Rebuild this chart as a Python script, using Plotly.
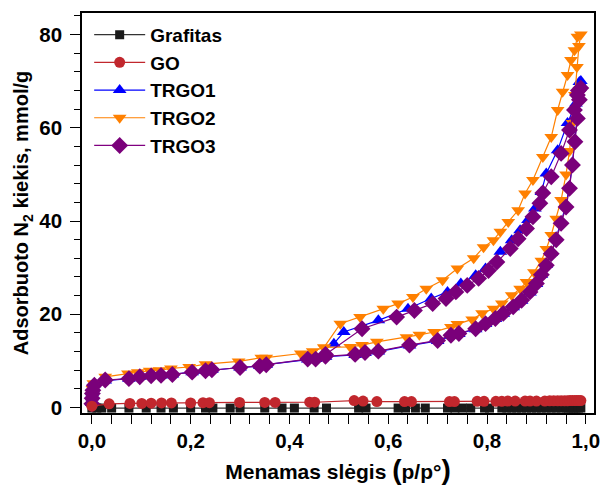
import plotly.graph_objects as go

# ---------------- data ----------------
series_names = ["Grafitas", "GO", "TRGO1", "TRGO2", "TRGO3"]

grafitas_p = [0.0, 0.01, 0.02, 0.04, 0.075, 0.11, 0.14, 0.165, 0.20, 0.23, 0.245, 0.28, 0.30,
              0.35, 0.385, 0.41, 0.45, 0.475, 0.54, 0.555, 0.62, 0.635, 0.655, 0.675, 0.72,
              0.735, 0.75, 0.767, 0.795, 0.805, 0.83, 0.84, 0.85, 0.86, 0.87, 0.88, 0.89,
              0.90, 0.91, 0.92, 0.93, 0.94, 0.95, 0.96, 0.965, 0.97, 0.975, 0.98, 0.985, 0.99]
grafitas_v = [-0.1, -0.1, -0.1, -0.1, -0.1, -0.1, -0.1, -0.1, -0.1, -0.1, -0.1, -0.1, -0.1,
              -0.1, -0.1, -0.1, -0.1, -0.1, -0.1, -0.1, -0.1, -0.1, -0.1, -0.1, -0.1,
              -0.1, -0.1, -0.1, -0.1, -0.1, -0.1, -0.1, -0.1, -0.1, -0.1, -0.1, -0.1,
              -0.1, -0.1, -0.1, -0.1, -0.1, -0.1, -0.1, -0.1, -0.1, -0.1, -0.1, -0.1, -0.1]

go_p = [0.0, 0.035, 0.077, 0.101, 0.12, 0.141, 0.161, 0.2, 0.225, 0.238, 0.299, 0.35, 0.371,
        0.441, 0.451, 0.531, 0.549, 0.577, 0.633, 0.647, 0.724, 0.734, 0.78, 0.794, 0.818,
        0.83, 0.842, 0.857, 0.877, 0.887, 0.90, 0.917, 0.927, 0.935, 0.943, 0.95, 0.957,
        0.963, 0.968, 0.973, 0.978, 0.982, 0.986, 0.99]
go_v = [0.3, 0.8, 0.9, 0.9, 0.95, 1.0, 1.0, 1.0, 1.05, 1.05, 1.1, 1.1, 1.1,
        1.15, 1.15, 1.5, 1.4, 1.3, 1.3, 1.3, 1.3, 1.3, 1.35, 1.35, 1.35,
        1.35, 1.4, 1.4, 1.4, 1.4, 1.4, 1.4, 1.45, 1.45, 1.45, 1.45, 1.45,
        1.45, 1.5, 1.5, 1.5, 1.5, 1.5, 1.5]

trgo1_p = [0.0, 0.0005, 0.001, 0.002, 0.005, 0.027, 0.075, 0.097, 0.12, 0.14, 0.163, 0.203,
           0.23, 0.243, 0.30, 0.34, 0.353, 0.437, 0.453, 0.473, 0.533, 0.553, 0.58, 0.643,
           0.70, 0.727, 0.743, 0.777, 0.797, 0.817, 0.833, 0.853, 0.87, 0.887, 0.90, 0.91,
           0.92, 0.93, 0.94, 0.95, 0.96, 0.967, 0.973, 0.978, 0.983, 0.987, 0.99,
           0.987, 0.98, 0.963, 0.943, 0.92, 0.91, 0.897, 0.883, 0.867, 0.85, 0.827, 0.797,
           0.777, 0.747, 0.72, 0.687, 0.64, 0.58, 0.51, 0.49]
trgo1_v = [1.0, 2.2, 3.2, 4.0, 5.0, 5.8, 6.2, 6.6, 6.8, 6.9, 7.1, 7.6,
           7.9, 8.1, 8.6, 8.9, 9.2, 10.3, 10.4, 10.9, 11.3, 11.7, 12.0, 13.3,
           14.3, 15.4, 15.8, 16.8, 17.9, 19.0, 20.1, 21.5, 22.9, 24.7, 26.5, 28.5,
           30.6, 33.2, 36.3, 39.8, 43.5, 47.5, 52.5, 57.5, 62.5, 66.5, 70.0,
           69.8, 65.2, 61.0, 55.2, 50.2, 46.2, 42.7, 40.2, 38.0, 35.9, 33.4, 29.8,
           28.4, 26.6, 24.8, 23.4, 21.2, 18.7, 16.2, 13.7]

trgo2_p = [0.0, 0.0005, 0.001, 0.003, 0.027, 0.073, 0.093, 0.117, 0.137, 0.16, 0.197, 0.23,
           0.297, 0.343, 0.353, 0.423, 0.447, 0.47, 0.523, 0.547, 0.577, 0.637, 0.663, 0.693,
           0.727, 0.74, 0.77, 0.79, 0.813, 0.83, 0.85, 0.867, 0.88, 0.895, 0.91, 0.92, 0.93,
           0.94, 0.95, 0.96, 0.967, 0.973, 0.978, 0.982, 0.986, 0.99,
           0.983, 0.977, 0.97, 0.963, 0.953, 0.943, 0.93, 0.913, 0.893, 0.877, 0.863, 0.843,
           0.827, 0.813, 0.793, 0.773, 0.74, 0.71, 0.677, 0.65, 0.62, 0.59, 0.543, 0.503, 0.47]
trgo2_v = [1.5, 3.0, 4.0, 5.2, 6.6, 7.3, 7.6, 7.9, 8.0, 8.4, 8.7, 9.3,
           9.9, 10.7, 10.7, 11.6, 12.1, 12.9, 13.0, 13.4, 14.1, 15.1, 15.6, 16.2,
           17.3, 17.9, 18.9, 20.2, 21.2, 22.3, 24.1, 25.5, 26.9, 29.0, 31.5, 34.0, 37.0,
           40.5, 44.5, 50.0, 55.0, 61.0, 67.0, 73.0, 77.5, 80.0,
           79.5, 76.6, 74.5, 71.3, 67.7, 63.8, 58.0, 53.7, 48.8, 45.9, 42.3, 39.8,
           37.7, 35.9, 34.4, 32.0, 29.8, 27.3, 25.5, 23.7, 22.3, 21.2, 19.4, 18.0, 12.9]

trgo3_p = [0.0, 0.0005, 0.001, 0.002, 0.005, 0.027, 0.075, 0.097, 0.12, 0.14, 0.163, 0.203,
           0.23, 0.243, 0.30, 0.34, 0.353, 0.437, 0.453, 0.473, 0.533, 0.553, 0.58, 0.643,
           0.70, 0.727, 0.743, 0.777, 0.797, 0.817, 0.833, 0.853, 0.87, 0.887, 0.90, 0.91,
           0.92, 0.93, 0.94, 0.95, 0.96, 0.967, 0.973, 0.978, 0.983, 0.987, 0.99,
           0.985, 0.983, 0.977, 0.967, 0.95, 0.93, 0.913, 0.907, 0.893, 0.88, 0.863, 0.847,
           0.82, 0.803, 0.783, 0.76, 0.737, 0.717, 0.69, 0.653, 0.617, 0.547, 0.473]
trgo3_v = [0.8, 2.0, 3.0, 3.7, 4.8, 5.9, 6.2, 6.6, 6.8, 6.9, 7.1, 7.6,
           7.9, 8.1, 8.6, 8.9, 9.2, 10.4, 10.4, 11.0, 11.4, 11.8, 12.1, 13.4,
           14.4, 15.5, 15.9, 16.9, 18.0, 19.1, 20.2, 21.6, 23.0, 24.8, 26.6, 28.5,
           30.5, 33.0, 36.0, 39.5, 43.0, 47.0, 52.0, 57.0, 62.0, 66.0, 68.5,
           68.0, 67.0, 63.8, 59.5, 54.5, 49.5, 46.0, 43.8, 40.9, 38.4, 36.2, 34.1,
           31.2, 29.4, 27.7, 26.2, 24.8, 23.4, 22.3, 20.8, 19.4, 16.9, 11.4]

x_tick_vals = [0.0, 0.2, 0.4, 0.6, 0.8, 1.0]
y_tick_vals = [0, 20, 40, 60, 80]

# ---------------- figure ----------------
FONT = "Liberation Sans, Arial, sans-serif"

styles = {
    "Grafitas": dict(color="#1a1a1a", line="#333333", symbol="square", size=9, rank=1),
    "GO": dict(color="#c1272d", line="#c1272d", symbol="circle", size=11, rank=2),
    "TRGO1": dict(color="#0000ff", line="#0000ff", symbol="triangle-up", size=12, rank=3),
    "TRGO2": dict(color="#ff8000", line="#ff8000", symbol="triangle-down", size=12, rank=4),
    "TRGO3": dict(color="#7a007a", line="#800080", symbol="diamond", size=13, rank=5),
}
data = {
    "Grafitas": (grafitas_p, grafitas_v),
    "GO": (go_p, go_v),
    "TRGO1": (trgo1_p, trgo1_v),
    "TRGO2": (trgo2_p, trgo2_v),
    "TRGO3": (trgo3_p, trgo3_v),
}
draw_order = ["Grafitas", "TRGO1", "TRGO2", "TRGO3", "GO"]

fig = go.Figure()
for name in draw_order:
    s = styles[name]
    xs, ys = data[name]
    fig.add_trace(go.Scatter(
        x=xs, y=ys, name=name, mode="lines+markers",
        line=dict(color=s["line"], width=1.2),
        marker=dict(symbol=s["symbol"], size=s["size"], color=s["color"], line=dict(width=0)),
        legendrank=s["rank"],
    ))

fig.update_layout(
    width=609, height=490,
    margin=dict(l=82, r=9, t=13, b=77),
    paper_bgcolor="white", plot_bgcolor="white",
    separators=",.",
    font=dict(family=FONT, color="black", size=20, weight="bold"),
    showlegend=True,
    legend=dict(
        x=0.014, y=0.993, xanchor="left", yanchor="top",
        bgcolor="rgba(0,0,0,0)", borderwidth=0,
        font=dict(family=FONT, size=19, color="black", weight="bold"),
        itemwidth=51, tracegroupgap=0,
    ),
)
fig.update_xaxes(
    range=[-0.02, 1.0166], tickvals=x_tick_vals, tickformat=".1f",
    showgrid=False, zeroline=False,
    showline=True, linecolor="black", linewidth=1.5, mirror=True,
    ticks="outside", ticklen=9, tickwidth=1.2, tickcolor="black",
    minor=dict(dtick=0.04, tick0=0, ticks="outside", ticklen=9, tickwidth=1.2, tickcolor="black"),
    tickfont=dict(family=FONT, size=20.5, color="black", weight="bold"),
    title=dict(
        text="Menamas slėgis <span style='font-size:28px'>(</span>p/p°<span style='font-size:28px'>)</span>",
        font=dict(family=FONT, size=21, color="black", weight="bold"), standoff=13),
)
fig.update_yaxes(
    range=[-1.16, 84.6], tickvals=y_tick_vals, tickformat="d",
    showgrid=False, zeroline=False,
    showline=True, linecolor="black", linewidth=1.5, mirror=True,
    ticks="outside", ticklen=10, tickwidth=1.2, tickcolor="black",
    minor=dict(dtick=4, tick0=0, ticks="outside", ticklen=6, tickwidth=1.2, tickcolor="black"),
    tickfont=dict(family=FONT, size=20.5, color="black", weight="bold"),
    ticklabelstandoff=4,
    title=dict(text="Adsorbuoto N<sub>2</sub> kiekis, mmol/g",
               font=dict(family=FONT, size=20, color="black", weight="bold"), standoff=5),
)

fig.write_html("out.html")
